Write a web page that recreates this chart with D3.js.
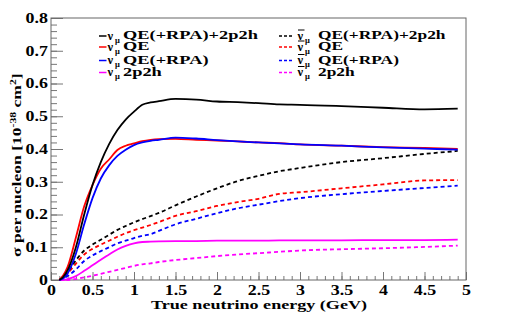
<!DOCTYPE html>
<html>
<head>
<meta charset="utf-8">
<script src="https://cdn.jsdelivr.net/npm/d3@7"></script>
<style>
  body { margin: 0; background: #fff; }
</style>
</head>
<body>
<div id="chart"></div>
<script>
// energies (GeV) at which each curve was read
var energy = [0.1, 0.15, 0.2, 0.3, 0.4, 0.5, 0.6, 0.7, 0.8, 0.9, 1.0, 1.1, 1.2, 1.3, 1.5, 1.75, 2.0, 2.25, 2.5, 2.75, 3.0, 3.5, 4.0, 4.5, 4.9];

// neutrino (solid)
var nuTotal = [0, 0.01, 0.03, 0.1, 0.2, 0.29, 0.36, 0.415, 0.458, 0.49, 0.514, 0.535, 0.542, 0.546, 0.553, 0.551, 0.545, 0.543, 0.54, 0.536, 0.535, 0.531, 0.526, 0.521, 0.523];
var nuQE = [0, 0.015, 0.04, 0.13, 0.225, 0.29, 0.34, 0.368, 0.397, 0.41, 0.417, 0.424, 0.428, 0.43, 0.431, 0.428, 0.426, 0.423, 0.42, 0.418, 0.414, 0.41, 0.406, 0.403, 0.4];
var nuRPA = [0, 0.005, 0.02, 0.08, 0.17, 0.25, 0.31, 0.35, 0.379, 0.398, 0.412, 0.42, 0.425, 0.428, 0.435, 0.432, 0.427, 0.423, 0.42, 0.417, 0.414, 0.41, 0.405, 0.401, 0.398];
var nu2p2h = [0, 0, 0.003, 0.012, 0.028, 0.045, 0.062, 0.078, 0.093, 0.104, 0.112, 0.116, 0.117, 0.118, 0.119, 0.119, 0.12, 0.12, 0.12, 0.121, 0.121, 0.121, 0.122, 0.122, 0.123];

// antineutrino (dashed)
var nubarTotal = [0, 0.01, 0.025, 0.06, 0.09, 0.108, 0.123, 0.138, 0.153, 0.165, 0.176, 0.186, 0.195, 0.205, 0.228, 0.255, 0.28, 0.302, 0.318, 0.332, 0.342, 0.36, 0.372, 0.385, 0.394];
var nubarQE = [0, 0.008, 0.02, 0.05, 0.078, 0.095, 0.108, 0.12, 0.132, 0.143, 0.152, 0.16, 0.168, 0.177, 0.196, 0.21, 0.226, 0.238, 0.248, 0.263, 0.268, 0.28, 0.292, 0.304, 0.305];
var nubarRPA = [0, 0.005, 0.012, 0.032, 0.058, 0.075, 0.088, 0.1, 0.112, 0.12, 0.128, 0.135, 0.14, 0.15, 0.17, 0.187, 0.204, 0.219, 0.23, 0.241, 0.25, 0.262, 0.272, 0.281, 0.288];
var nubar2p2h = [0, 0, 0, 0.003, 0.008, 0.013, 0.019, 0.025, 0.031, 0.037, 0.043, 0.048, 0.051, 0.055, 0.061, 0.067, 0.073, 0.078, 0.082, 0.086, 0.09, 0.094, 0.097, 0.101, 0.105];

var legendNames = ["QE(+RPA)+2p2h", "QE", "QE(+RPA)", "2p2h"];
var xTicks = [0, 0.5, 1, 1.5, 2, 2.5, 3, 3.5, 4, 4.5, 5];
var yTicks = [0, 0.1, 0.2, 0.3, 0.4, 0.5, 0.6, 0.7, 0.8];

var width = 518, height = 327;
var margin = {top: 18, right: 52, bottom: 47, left: 51};
var plotW = width - margin.left - margin.right,
    plotH = height - margin.top - margin.bottom;

var FONT = "'Liberation Serif', 'Times New Roman', Times, serif";
var colors = ["#000000", "#ff0000", "#0000ff", "#ff00ff"];
var stretch = 1.28; // ROOT-ish wide glyphs

var x = d3.scaleLinear().domain([0, 5]).range([0, plotW]);
var y = d3.scaleLinear().domain([0, 0.8]).range([plotH, 0]);

var svg = d3.select("#chart").append("svg")
    .attr("width", width)
    .attr("height", height);

var g = svg.append("g")
    .attr("transform", "translate(" + margin.left + "," + margin.top + ")");

// minor ticks
g.append("g")
    .attr("class", "axis minor")
    .attr("transform", "translate(0," + plotH + ")")
    .call(d3.axisBottom(x).tickValues(d3.range(0, 50).map(function(i) { return i / 10; })).tickSize(-4).tickFormat(""));
g.append("g")
    .attr("class", "axis minor")
    .call(d3.axisLeft(y).tickValues(d3.range(0, 40).map(function(i) { return i / 50; })).tickSize(-6).tickFormat(""));
g.selectAll(".minor text").remove();

// major ticks + labels
g.append("g")
    .attr("class", "axis")
    .attr("transform", "translate(0," + plotH + ")")
    .call(d3.axisBottom(x).tickValues(xTicks).tickSize(-8).tickPadding(5).tickFormat(function(d) { return d; }));
g.append("g")
    .attr("class", "axis")
    .call(d3.axisLeft(y).tickValues(yTicks).tickSize(-12).tickPadding(2.4).tickFormat(function(d) { return d; }));

g.selectAll(".axis path.domain").remove();
g.selectAll(".axis").attr("font-family", FONT);
g.selectAll(".axis line").attr("stroke", "#777");
g.selectAll(".axis text")
    .attr("fill", "#000")
    .attr("font-family", FONT)
    .attr("font-weight", "bold")
    .attr("font-size", 14)
    .attr("transform", "scale(" + stretch + ",1)");

// frame
g.append("rect")
    .attr("x", 0).attr("y", 0)
    .attr("width", plotW).attr("height", plotH)
    .attr("fill", "none")
    .attr("stroke", "#666")
    .attr("stroke-width", 1);

// curves
var line = d3.line()
    .curve(d3.curveMonotoneX)
    .x(function(d) { return x(d[0]); })
    .y(function(d) { return y(d[1]); });

var series = [
    {vals: nubar2p2h, c: 3, dash: true},
    {vals: nubarRPA, c: 2, dash: true},
    {vals: nubarQE, c: 1, dash: true},
    {vals: nubarTotal, c: 0, dash: true},
    {vals: nu2p2h, c: 3, dash: false},
    {vals: nuQE, c: 1, dash: false},
    {vals: nuRPA, c: 2, dash: false},
    {vals: nuTotal, c: 0, dash: false}
];

series.forEach(function(s) {
    g.append("path")
        .datum(energy.map(function(e, i) { return [e, s.vals[i]]; }))
        .attr("fill", "none")
        .attr("stroke", colors[s.c])
        .attr("stroke-width", 1.8)
        .attr("stroke-dasharray", s.dash ? "4,3" : null)
        .attr("d", line);
});

function txt(parent, str, size) {
    return parent.append("text")
        .attr("font-family", FONT)
        .attr("font-weight", "bold")
        .attr("font-size", size)
        .attr("fill", "#000")
        .text(str);
}

// legend
var rowY = [36, 47, 60.5, 72.5];
var leftNames = svg.append("g").attr("transform", "translate(123,0) scale(1.47,1)");
var rightNames = svg.append("g").attr("transform", "translate(318,0) scale(1.39,1)");

legendNames.forEach(function(name, i) {
    var yb = rowY[i] + 3.5;

    // neutrino: solid sample
    svg.append("line")
        .attr("x1", 99).attr("x2", 106.5)
        .attr("y1", rowY[i]).attr("y2", rowY[i])
        .attr("stroke", colors[i]).attr("stroke-width", 1.5);
    txt(svg, "\u03bd", 12.5).attr("x", 107.5).attr("y", yb);
    txt(svg, "\u03bc", 8.5).attr("x", 115).attr("y", yb + 3);
    txt(leftNames, name, 12.5).attr("x", 0).attr("y", yb);

    // antineutrino: dashed sample, barred nu
    svg.append("line")
        .attr("x1", 279).attr("x2", 292)
        .attr("y1", rowY[i]).attr("y2", rowY[i])
        .attr("stroke", colors[i]).attr("stroke-width", 1.5)
        .attr("stroke-dasharray", "3,2");
    txt(svg, "\u03bd", 12.5).attr("x", 297.5).attr("y", yb);
    svg.append("line")
        .attr("x1", 298).attr("x2", 304.5)
        .attr("y1", yb - 9.5).attr("y2", yb - 9.5)
        .attr("stroke", "#000").attr("stroke-width", 1);
    txt(svg, "\u03bc", 8.5).attr("x", 305).attr("y", yb + 3);
    txt(rightNames, name, 12.5).attr("x", 0).attr("y", yb);
});

// axis titles
txt(svg, "True neutrino energy (GeV)", 13.5)
    .attr("x", 151).attr("y", 309)
    .attr("textLength", 216)
    .attr("lengthAdjust", "spacingAndGlyphs");

var yt = txt(svg, "", 13.5)
    .attr("transform", "translate(21,257) rotate(-90) scale(1.3,1)");
yt.append("tspan").text("\u03c3 per nucleon [10");
yt.append("tspan").attr("dy", -5).attr("font-size", 9).text("-38");
yt.append("tspan").attr("dy", 5).text(" cm");
yt.append("tspan").attr("dy", -5).attr("font-size", 9).text("2");
yt.append("tspan").attr("dy", 5).text("]");
</script>
</body>
</html>
